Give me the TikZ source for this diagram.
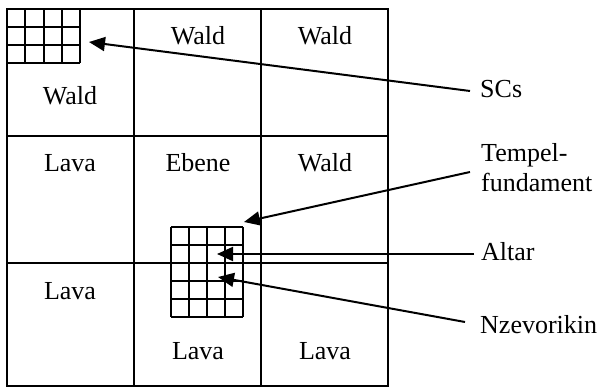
\documentclass[tikz,border=0pt]{standalone}
\usepackage{fontspec}
\setmainfont{Liberation Serif}
\usetikzlibrary{arrows.meta}
\tikzset{
  gridline/.style={line width=2pt},
  cell/.style={font=\fontsize{26}{30}\selectfont, anchor=base, inner sep=0pt},
  lbl/.style={font=\fontsize{26}{30}\selectfont, anchor=base west, inner sep=0pt},
  arr/.style={line width=2pt, -{Triangle[length=16pt,width=14pt]}},
}
\begin{document}
\begin{tikzpicture}[x=1pt,y=-1pt]
\useasboundingbox (0,0) rectangle (602,387);
% main grid
\draw[gridline] (7,9) rectangle (388,386);
\draw[gridline] (134,9) -- (134,386);
\draw[gridline] (261,9) -- (261,386);
\draw[gridline] (7,136) -- (388,136);
\draw[gridline] (7,263) -- (388,263);
% SC grid (4 x 3)
\foreach \i in {0,...,4} \draw[gridline] ({7+18.25*\i},9) -- ({7+18.25*\i},63);
\foreach \j in {0,...,3} \draw[gridline] (7,{9+18*\j}) -- (80,{9+18*\j});
% temple grid (4 x 5)
\foreach \i in {0,...,4} \draw[gridline] ({171+18*\i},227) -- ({171+18*\i},317);
\foreach \j in {0,...,5} \draw[gridline] (171,{227+18*\j}) -- (243,{227+18*\j});
% cell labels
\node[cell] (w12) at (198,45) {Wald};
\node[cell] (w13) at (325,45) {Wald};
\node[cell] (w11) at (70,105) {Wald};
\node[cell] (l21) at (70,172) {Lava};
\node[cell] (e22) at (198,172) {Ebene};
\node[cell] (w23) at (325,172) {Wald};
\node[cell] (l31) at (70,299) {Lava};
\node[cell] (l32) at (198,359) {Lava};
\node[cell] (l33) at (325,359) {Lava};
% side labels
\node[lbl] (scs) at (480,98) {SCs};
\node[lbl] (tempel) at (481,162) {Tempel-};
\node[lbl] (fund) at (481,192) {fundament};
\node[lbl] (altar) at (481,261) {Altar};
\node[lbl] (nzev) at (480,333) {Nzevorikin};
% connector ends
\coordinate (scsS) at (470,91);
\coordinate (tempS) at (470,172);
\coordinate (altS) at (474,254);
\coordinate (nzS) at (465,322);
\coordinate (scsT) at (89,42);
\coordinate (tempT) at (244,222);
\coordinate (altT) at (217,254);
\coordinate (nzT) at (218,277);
\draw[arr] (scsS) -- (scsT);
\draw[arr] (tempS) -- (tempT);
\draw[arr] (altS) -- (altT);
\draw[arr] (nzS) -- (nzT);
\end{tikzpicture}
\end{document}
